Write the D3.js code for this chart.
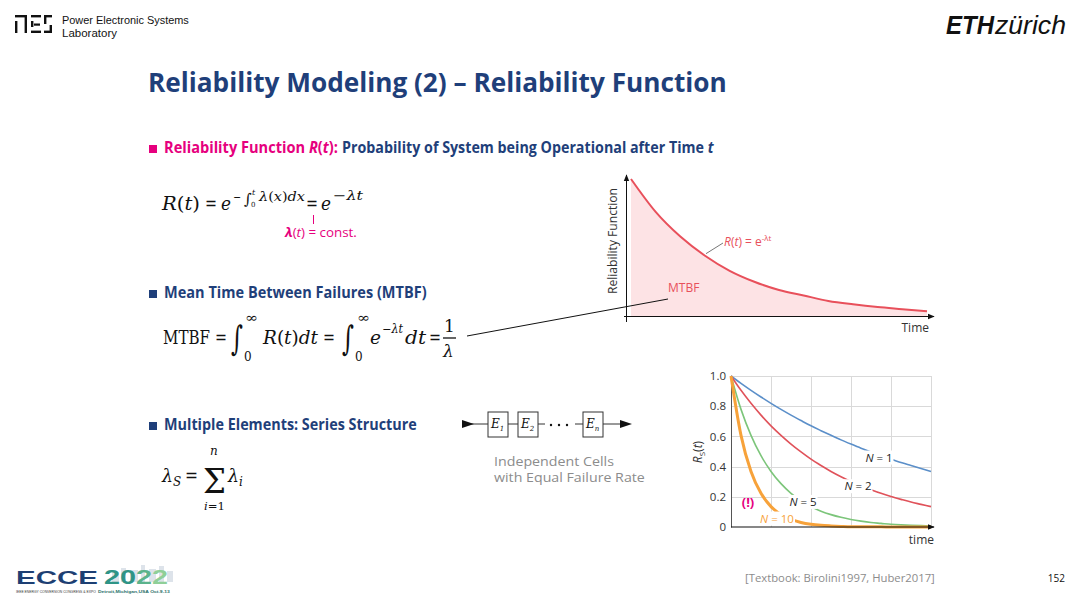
<!DOCTYPE html>
<html>
<head>
<meta charset="utf-8">
<script src="https://cdn.jsdelivr.net/npm/d3@7"></script>
<style>
  html, body { margin: 0; padding: 0; background: #fff; }
  svg { display: block; }
  .sans { font-family: "Open Sans", "Noto Sans", sans-serif; }
  .serif { font-family: "DejaVu Serif", "Liberation Serif", serif; }
  .arial { font-family: "Liberation Sans", sans-serif; }
</style>
</head>
<body>
<div id="slide"></div>
<script>
// ---- data ----
// upper sketch: R(t) = e^-lambda t, arbitrary time units
var sketchT = [0, 0.5, 1, 1.5, 2, 2.5, 3, 3.5, 4, 4.5, 5, 5.5, 6];
var sketchR = [1.00, 0.76, 0.58, 0.44, 0.33, 0.25, 0.19, 0.15, 0.11, 0.085, 0.065, 0.05, 0.035];

// lower chart: R_S(t) for N cells in series (time in units of 1/lambda)
var timeSteps = [0, 0.05, 0.1, 0.15, 0.2, 0.25, 0.3, 0.35, 0.4, 0.45, 0.5,
                 0.55, 0.6, 0.65, 0.7, 0.75, 0.8, 0.85, 0.9, 0.95, 1.0];
var rsN1  = [1, .951, .905, .861, .819, .779, .741, .705, .670, .638, .607, .577, .549, .522, .497, .472, .449, .427, .407, .387, .368];
var rsN2  = [1, .905, .819, .741, .670, .607, .549, .497, .449, .407, .368, .333, .301, .273, .247, .223, .202, .183, .165, .150, .135];
var rsN5  = [1, .779, .607, .472, .368, .287, .223, .174, .135, .105, .082, .064, .050, .039, .030, .024, .018, .014, .011, .009, .007];
var rsN10 = [1, .607, .368, .223, .135, .082, .050, .030, .018, .011, .007, .004, .002, .002, .001, .001, 0, 0, 0, 0, 0];
var seriesNames = ["N = 1", "N = 2", "N = 5", "N = 10"];
var yTickValues = [0, 0.2, 0.4, 0.6, 0.8, 1.0];
var yTickLabels = ["0", "0.2", "0.4", "0.6", "0.8", "1.0"];
var xGridValues = [0, 0.2, 0.4, 0.6, 0.8, 1.0];

var W = 1080, H = 599;
var blue = "#1f3f7a", pink = "#e6007e", curveRed = "#e8505b";

var svg = d3.select("#slide").append("svg")
    .attr("width", W).attr("height", H)
    .attr("viewBox", "0 0 " + W + " " + H);

var defs = svg.append("defs");
defs.append("marker")
    .attr("id", "arr")
    .attr("viewBox", "0 0 10 10")
    .attr("refX", 9).attr("refY", 5)
    .attr("markerWidth", 7).attr("markerHeight", 7)
    .attr("markerUnits", "userSpaceOnUse")
    .attr("orient", "auto")
    .append("path").attr("d", "M0,1 L10,5 L0,9 Z").attr("fill", "#111");

// text made of italic/upright runs, squeezed to a target width with a scale
// (textLength + tspans confuses box measuring, a transform keeps it honest)
function runs(cls, x, y, size, color, parts, width, weight) {
    var t = svg.append("text").attr("class", cls).attr("x", 0).attr("y", 0)
        .attr("font-size", size).attr("fill", color);
    if (weight) t.attr("font-weight", weight);
    parts.forEach(function (p) {
        var s = t.append("tspan").attr("font-style", p[1] ? "italic" : "normal").text(p[0]);
        if (p[2]) s.attr("font-weight", p[2]);
        if (p[3]) s.attr("fill", p[3]);
    });
    var k = width ? width / t.node().getComputedTextLength() : 1;
    t.attr("transform", "translate(" + x + "," + y + ") scale(" + k + ",1)");
    return t;
}

// ---------- header ----------
var logo = svg.append("g").attr("fill", "#111");
[[15, 15, 12, 2.4], [15, 21, 2.4, 12], [24.6, 15, 2.4, 18],
 [31, 15, 10, 2.4], [31, 30.6, 10, 2.4], [31, 21, 2.4, 6], [34, 23.5, 6, 2.2],
 [44, 15, 8, 2.4], [44, 15, 2.4, 9], [44, 30.6, 8, 2.4], [49.6, 25, 2.4, 8]
].forEach(function (r) {
    logo.append("rect").attr("x", r[0]).attr("y", r[1]).attr("width", r[2]).attr("height", r[3]);
});
runs("arial", 62, 24, 11, "#111", [["Power Electronic Systems", 0]], 127);
runs("arial", 62, 36.5, 11, "#111", [["Laboratory", 0]], 55);

runs("arial", 946, 34, 25, "#111", [["ETH", 1]], 48, "bold");
runs("arial", 995, 34, 25, "#111", [["zürich", 1]], 71);

runs("sans", 148, 92, 27, blue, [["Reliability Modeling (2) – Reliability Function", 0]], 579, "bold");

// ---------- bullets ----------
function bullet(y, color) {
    svg.append("rect").attr("x", 149).attr("y", y - 8).attr("width", 8).attr("height", 8).attr("fill", color);
}
bullet(153, pink);
runs("sans", 164, 153, 15.5, pink, [["Reliability Function ", 0], ["R", 1], ["(", 0], ["t", 1], ["):", 0]], 174, "bold");
runs("sans", 342, 153, 15.5, blue, [["Probability of System being Operational after Time ", 0], ["t", 1]], 372, "bold");
bullet(298, blue);
runs("sans", 164, 298, 15.5, blue, [["Mean Time Between Failures (MTBF)", 0]], 263, "bold");
bullet(430, blue);
runs("sans", 164, 430, 15.5, blue, [["Multiple Elements: Series Structure", 0]], 253, "bold");

// ---------- formulas ----------
function math(x, y, size, parts, width) {
    return runs("serif", x, y, size, "#111", parts, width);
}
// R(t) = e^{-int ...} = e^{-lambda t}
math(162, 210, 19, [["R", 1], ["(", 0], ["t", 1], [")", 0]], 38);
math(205, 210, 19, [["=", 0]], 12);
math(221, 210, 19, [["e", 1]], 10);
math(233, 201, 12, [["−", 0]], 8);
math(244, 204, 15, [["∫", 0]]);
math(252, 195, 8, [["t", 1]]);
math(251, 207, 7, [["0", 0]]);
math(259, 201, 12, [["λ", 1], ["(", 0], ["x", 1], [")", 0], ["d", 1], ["x", 1]], 46);
math(306, 210, 19, [["=", 0]], 12);
math(321, 210, 19, [["e", 1]], 10);
math(333, 200, 13, [["−", 0], ["λ", 1], ["t", 1]], 30);
svg.append("line").attr("x1", 313.5).attr("x2", 313.5).attr("y1", 215).attr("y2", 224)
    .attr("stroke", pink).attr("stroke-width", 1);
runs("sans", 285, 237, 12, pink, [["λ", 1, "bold"], ["(", 0], ["t", 1], [") = const.", 0]], 72);

// MTBF = int R dt = int e dt = 1/lambda
math(163, 344, 19, [["MTBF", 0]], 47);
math(215, 344, 19, [["=", 0]], 12);
math(231, 350, 34, [["∫", 0]], 12);
math(245, 322, 13, [["∞", 0]], 13);
math(244, 361, 12, [["0", 0]]);
math(263, 344, 19, [["R", 1], ["(", 0], ["t", 1], [")", 0], ["dt", 1]], 55);
math(323, 344, 19, [["=", 0]], 12);
math(342, 350, 34, [["∫", 0]], 12);
math(357, 322, 13, [["∞", 0]], 13);
math(355, 361, 12, [["0", 0]]);
math(370, 344, 19, [["e", 1]], 11);
math(382, 333, 12, [["−", 0], ["λ", 1], ["t", 1]], 21);
math(405, 344, 19, [["dt", 1]], 21);
math(429, 344, 19, [["=", 0]], 12);
math(444, 332, 17, [["1", 0]]);
svg.append("line").attr("x1", 443).attr("x2", 456).attr("y1", 338).attr("y2", 338)
    .attr("stroke", "#111").attr("stroke-width", 1.3);
math(443, 357, 17, [["λ", 1]]);

// lambda_S = sum lambda_i
math(162, 482, 19, [["λ", 1]], 11);
math(173, 486, 12, [["S", 1]]);
math(185, 482, 19, [["=", 0]], 13);
math(203, 493, 34, [["Σ", 0]], 23);
math(210, 455, 12, [["n", 1]]);
math(204, 510, 10.5, [["i", 1], ["=1", 0]], 21);
math(228, 482, 19, [["λ", 1]], 11);
math(239, 486, 12, [["i", 1]]);

// ---------- series block diagram ----------
var blk = svg.append("g").attr("stroke", "#333").attr("fill", "none").attr("stroke-width", 1);
blk.append("line").attr("x1", 463).attr("x2", 488).attr("y1", 424).attr("y2", 424);
blk.append("path").attr("d", "M462,420 L474,424 L462,428 Z").attr("fill", "#111").attr("stroke", "none");
[[488, "1"], [518, "2"], [583, "n"]].forEach(function (b) {
    blk.append("rect").attr("x", b[0]).attr("y", 412).attr("width", 20).attr("height", 25).attr("fill", "#fff");
    var t = svg.append("text").attr("class", "serif").attr("x", b[0] + 3).attr("y", 428)
        .attr("font-size", 12).attr("font-style", "italic").attr("fill", "#111");
    t.append("tspan").text("E");
    t.append("tspan").attr("font-size", 7).attr("dy", 3).text(b[1]);
});
blk.append("line").attr("x1", 508).attr("x2", 518).attr("y1", 424).attr("y2", 424);
blk.append("line").attr("x1", 538).attr("x2", 545).attr("y1", 424).attr("y2", 424);
blk.append("line").attr("x1", 575).attr("x2", 583).attr("y1", 424).attr("y2", 424);
blk.append("line").attr("x1", 603).attr("x2", 622).attr("y1", 424).attr("y2", 424);
blk.append("path").attr("d", "M620,420 L632,424 L620,428 Z").attr("fill", "#111").attr("stroke", "none");
[551, 559, 567].forEach(function (x) {
    svg.append("circle").attr("cx", x).attr("cy", 425).attr("r", 1.2).attr("fill", "#111");
});
runs("sans", 494, 466, 13, "#8c8c8c", [["Independent Cells", 0]], 120);
runs("sans", 494, 482, 13, "#8c8c8c", [["with Equal Failure Rate", 0]], 151);

// ---------- upper sketch: reliability function ----------
var xS = d3.scaleLinear().domain([0, 6]).range([631, 927]);
var yS = d3.scaleLinear().domain([0, 1]).range([316, 179]);
var sketchData = sketchT.map(function (t, i) { return { t: t, r: sketchR[i] }; });

svg.append("path").datum(sketchData)
    .attr("fill", "#fde3e5")
    .attr("d", d3.area().curve(d3.curveMonotoneX)
        .x(function (d) { return xS(d.t); })
        .y0(yS(0)).y1(function (d) { return yS(d.r); }));
svg.append("path").datum(sketchData)
    .attr("fill", "none").attr("stroke", curveRed).attr("stroke-width", 2)
    .attr("d", d3.line().curve(d3.curveMonotoneX)
        .x(function (d) { return xS(d.t); })
        .y(function (d) { return yS(d.r); }));
// axes as arrows
svg.append("line").attr("x1", 626.5).attr("x2", 626.5).attr("y1", 322).attr("y2", 175)
    .attr("stroke", "#111").attr("stroke-width", 1).attr("marker-end", "url(#arr)");
svg.append("line").attr("x1", 624).attr("x2", 934).attr("y1", yS(0) + 0.5).attr("y2", yS(0) + 0.5)
    .attr("stroke", "#111").attr("stroke-width", 1).attr("marker-end", "url(#arr)");
svg.append("text").attr("class", "sans")
    .attr("transform", "translate(617,241) rotate(-90)")
    .attr("text-anchor", "middle").attr("font-size", 12).attr("fill", "#333")
    .attr("textLength", 106).attr("lengthAdjust", "spacingAndGlyphs")
    .text("Reliability Function");
svg.append("text").attr("class", "sans").attr("x", 929).attr("y", 332)
    .attr("text-anchor", "end").attr("font-size", 12).attr("fill", "#333").text("Time");
svg.append("line").attr("x1", xS(1.52)).attr("y1", yS(0.455)).attr("x2", 723).attr("y2", 243)
    .attr("stroke", "#777").attr("stroke-width", 1);
var rl = svg.append("text").attr("class", "sans").attr("x", 724).attr("y", 246)
    .attr("font-size", 12).attr("fill", curveRed);
rl.append("tspan").attr("font-style", "italic").text("R");
rl.append("tspan").text("(");
rl.append("tspan").attr("font-style", "italic").text("t");
rl.append("tspan").text(") = e");
rl.append("tspan").attr("font-size", 8).attr("dy", -5).text("-λt");
svg.append("text").attr("class", "sans").attr("x", 668).attr("y", 292)
    .attr("font-size", 12).attr("fill", curveRed).text("MTBF");
svg.append("line").attr("x1", 467).attr("y1", 336).attr("x2", 668).attr("y2", 299)
    .attr("stroke", "#111").attr("stroke-width", 1);

// ---------- lower chart: series structure ----------
var xB = d3.scaleLinear().domain([0, 1]).range([731, 931]);
var yB = d3.scaleLinear().domain([0, 1]).range([527, 376]);
var gB = svg.append("g");

gB.append("g").selectAll("line.h").data(yTickValues.slice(1)).enter().append("line")
    .attr("x1", xB(0)).attr("x2", xB(1))
    .attr("y1", function (d) { return Math.round(yB(d)) + 0.5; })
    .attr("y2", function (d) { return Math.round(yB(d)) + 0.5; })
    .attr("stroke", "#d9d9d9").attr("stroke-width", 1);
gB.append("g").selectAll("line.v").data(xGridValues.slice(1)).enter().append("line")
    .attr("y1", yB(0)).attr("y2", yB(1))
    .attr("x1", function (d) { return Math.round(xB(d)) + 0.5; })
    .attr("x2", function (d) { return Math.round(xB(d)) + 0.5; })
    .attr("stroke", "#d9d9d9").attr("stroke-width", 1);

var yAxisB = d3.axisLeft(yB).tickValues(yTickValues).tickSize(0).tickPadding(5)
    .tickFormat(function (d, i) { return yTickLabels[i]; });
var yAx = gB.append("g").attr("transform", "translate(" + xB(0) + ",0)").call(yAxisB);
yAx.select(".domain").attr("stroke", "#555");
yAx.selectAll("text").attr("font-family", "Open Sans, sans-serif").attr("font-size", 11.5).attr("fill", "#333");

var seriesData = [rsN1, rsN2, rsN5, rsN10].map(function (vals) {
    return timeSteps.map(function (t, i) { return { t: t, r: vals[i] }; });
});
var seriesColors = ["#5b8fc9", "#e0525a", "#7cc57a", "#f7a23a"];
var seriesWidths = [1.6, 1.6, 1.6, 3];
var lineB = d3.line().curve(d3.curveMonotoneX)
    .x(function (d) { return xB(d.t); })
    .y(function (d) { return yB(d.r); });
gB.selectAll("path.rs").data(seriesData).enter().append("path")
    .attr("class", "rs").attr("fill", "none")
    .attr("stroke", function (d, i) { return seriesColors[i]; })
    .attr("stroke-width", function (d, i) { return seriesWidths[i]; })
    .attr("d", lineB);

gB.append("line").attr("x1", xB(0)).attr("x2", 934).attr("y1", yB(0)).attr("y2", yB(0))
    .attr("stroke", "#111").attr("stroke-width", 1.2).attr("marker-end", "url(#arr)");

// curve labels with white boxes
var labelPos = [[0.74, 0.46], [0.635, 0.27], [0.36, 0.166], [0.23, 0.056]];
var labelColors = ["#222", "#222", "#222", "#f7a23a"];
seriesNames.forEach(function (name, i) {
    var cx = xB(labelPos[i][0]), cy = yB(labelPos[i][1]);
    var w = i === 3 ? 36 : 29;
    gB.append("rect").attr("x", cx - w / 2).attr("y", cy - 7).attr("width", w).attr("height", 14)
        .attr("fill", "#fff");
    var t = gB.append("text").attr("x", cx).attr("y", cy + 4)
        .attr("text-anchor", "middle").attr("font-family", "Open Sans, sans-serif")
        .attr("font-size", 11.5).attr("fill", labelColors[i]);
    t.append("tspan").attr("font-style", "italic").text("N");
    t.append("tspan").text(name.slice(1));
});
gB.append("text").attr("x", 748).attr("y", 507).attr("text-anchor", "middle")
    .attr("font-family", "Open Sans, sans-serif").attr("font-size", 13)
    .attr("font-weight", "bold").attr("fill", pink).text("(!)");
var ry = gB.append("text").attr("transform", "translate(702,452) rotate(-90)")
    .attr("text-anchor", "middle").attr("font-family", "Open Sans, sans-serif")
    .attr("font-size", 12).attr("fill", "#333");
ry.append("tspan").attr("font-style", "italic").text("R");
ry.append("tspan").attr("font-size", 8).attr("dy", 3).text("S");
ry.append("tspan").attr("dy", -3).text("(");
ry.append("tspan").attr("font-style", "italic").text("t");
ry.append("tspan").text(")");
gB.append("text").attr("x", 934).attr("y", 544).attr("text-anchor", "end")
    .attr("font-family", "Open Sans, sans-serif").attr("font-size", 12)
    .attr("fill", "#333").text("time");

// ---------- footer ----------
// pale skyline behind the year
[[112, 572, 7, 10], [121, 568, 5, 14], [130, 570, 8, 12], [141, 565, 4, 17],
 [149, 569, 7, 13], [159, 566, 5, 16], [167, 571, 6, 11]].forEach(function (r) {
    svg.append("rect").attr("x", r[0]).attr("y", r[1]).attr("width", r[2]).attr("height", r[3])
        .attr("fill", "#dde3ea");
});
runs("arial", 16, 584, 19, "#1d3f73", [["ECCE", 0]], 82, "bold");
runs("arial", 104, 583.5, 21, "#2f9486",
    [["20", 0, null, "#2f9486"], ["2", 0, null, "#5bb38c"], ["2", 0, null, "#8fcf98"]], 64, "bold");
runs("arial", 16, 593, 4, "#333", [["IEEE ENERGY CONVERSION CONGRESS & EXPO", 0]], 80);
runs("arial", 98, 593, 4, "#2a6f6a", [["Detroit,Michigan,USA Oct.9-13", 0]], 72, "bold");

runs("sans", 745, 582, 11, "#8c8c8c", [["[Textbook: Birolini1997, Huber2017]", 0]], 190);
svg.append("text").attr("class", "sans").attr("x", 1065).attr("y", 582)
    .attr("text-anchor", "end").attr("font-size", 10).attr("fill", "#111").text("152");
</script>
</body>
</html>
